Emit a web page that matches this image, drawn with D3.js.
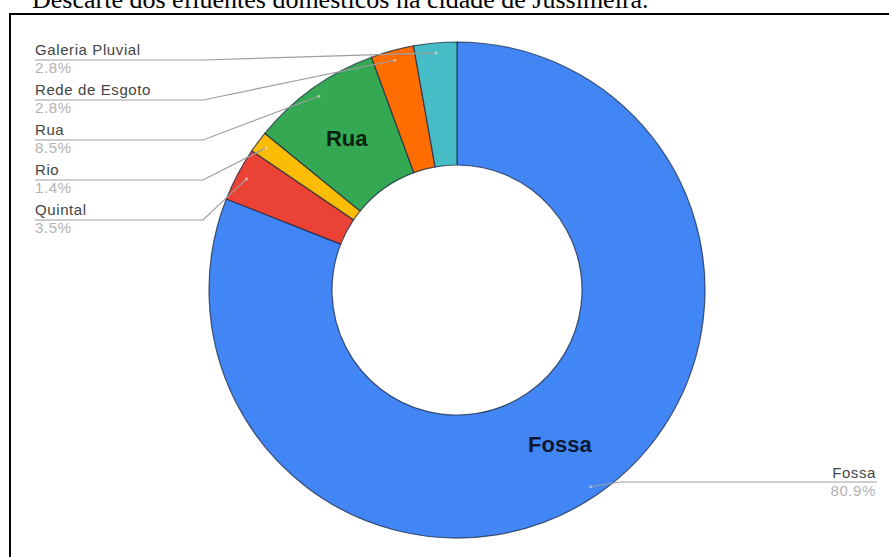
<!DOCTYPE html>
<html>
<head>
<meta charset="utf-8">
<script src="https://cdn.jsdelivr.net/npm/d3@7"></script>
<style>
  html, body { margin: 0; padding: 0; background: #fff; }
  svg { display: block; }
</style>
</head>
<body>
<svg id="chart" width="889" height="557"></svg>
<script>
// Destination of household wastewater (share of households, %)
const categories = ["Fossa", "Quintal", "Rio", "Rua", "Rede de Esgoto", "Galeria Pluvial"];
const shares = [80.9, 3.5, 1.4, 8.5, 2.8, 2.8];
const sliceColors = ["#4285f4", "#ea4335", "#fbbc04", "#34a853", "#ff6d01", "#46bdc6"];
const titleText = "Descarte dos efluentes domésticos na cidade de Jussimeira.";

const svg = d3.select("#chart");
const W = 889, H = 557;
const cx = 457, cy = 290, outerR = 248, innerR = 125;

// Title (runs off the top of the page)
svg.append("text")
  .attr("x", 32).attr("y", 8)
  .attr("font-family", "'Liberation Serif', 'Times New Roman', serif")
  .attr("font-size", 26)
  .attr("fill", "#000")
  .text(titleText);

// Frame
svg.append("rect")
  .attr("x", 10).attr("y", 14)
  .attr("width", W + 20).attr("height", H + 20)
  .attr("fill", "none")
  .attr("stroke", "#000")
  .attr("stroke-width", 2);

const pie = d3.pie().sort(null).value(d => d.value).startAngle(0).endAngle(2 * Math.PI);
const data = categories.map((c, i) => ({ name: c, value: shares[i], color: sliceColors[i] }));
const arcs = pie(data);
const arc = d3.arc().innerRadius(innerR).outerRadius(outerR);
const pct = d3.format(".1f");

const g = svg.append("g").attr("transform", `translate(${cx},${cy})`);

// Point on a slice's mid angle at radius r, in page coordinates
function polar(a, r) {
  const mid = (a.startAngle + a.endAngle) / 2;
  return [cx + r * Math.sin(mid), cy - r * Math.cos(mid)];
}

// Leader label layout: left column for the small slices, right for Fossa
const leftNames = ["Galeria Pluvial", "Rede de Esgoto", "Rua", "Rio", "Quintal"];
const labelFont = "'Liberation Sans', Arial, sans-serif";
const labelSize = 15;
const labelSpacing = 0.6;
const leaders = svg.append("g");
const labels = svg.append("g");

function addLabel(x, y, anchor, fill, text) {
  labels.append("text")
    .attr("x", x).attr("y", y).attr("text-anchor", anchor)
    .attr("font-family", labelFont).attr("font-size", labelSize)
    .attr("letter-spacing", labelSpacing)
    .attr("fill", fill)
    .text(text);
}

leftNames.forEach((name, k) => {
  const a = arcs.find(d => d.data.name === name);
  const base = 55 + k * 40;
  const ly = base + 5;
  const end = polar(a, 238);
  leaders.append("path")
    .attr("d", d3.line()([[35, ly], [203, ly], end]))
    .attr("fill", "none")
    .attr("stroke", "#9e9e9e")
    .attr("stroke-width", 1.2);
  addLabel(35, base, "start", "#444", name);
  addLabel(35, base + 18, "start", "#b3b3b3", pct(a.data.value) + "%");
});

// Right-hand label for Fossa
{
  const a = arcs[0];
  const base = 478, ly = 482;
  const end = polar(a, 238);
  leaders.append("path")
    .attr("d", d3.line()([[877, ly], [620, ly], end]))
    .attr("fill", "none")
    .attr("stroke", "#9e9e9e")
    .attr("stroke-width", 1.2);
  addLabel(876, base, "end", "#444", a.data.name);
  addLabel(876, base + 18, "end", "#b3b3b3", pct(a.data.value) + "%");
}

// Donut slices
g.selectAll("path.slice")
  .data(arcs)
  .join("path")
  .attr("class", "slice")
  .attr("d", arc)
  .attr("fill", d => d.data.color)
  .attr("stroke", "#1c2a44")
  .attr("stroke-opacity", 0.75)
  .attr("stroke-width", 1.2);

// Leader end dots
arcs.forEach(a => {
  const p = polar(a, 238);
  svg.append("circle")
    .attr("cx", p[0]).attr("cy", p[1]).attr("r", 1.6)
    .attr("fill", "#fff").attr("fill-opacity", 0.45);
});

// In-slice labels for the larger slices
arcs.filter(a => a.data.value >= 5).forEach(a => {
  const c = arc.centroid(a);
  g.append("text")
    .attr("x", c[0] - 2).attr("y", c[1])
    .attr("text-anchor", "middle")
    .attr("dominant-baseline", "central")
    .attr("font-family", labelFont)
    .attr("font-weight", "bold")
    .attr("font-size", 22)
    .attr("fill", "#000")
    .attr("fill-opacity", 0.82)
    .text(a.data.name);
});
</script>
</body>
</html>
